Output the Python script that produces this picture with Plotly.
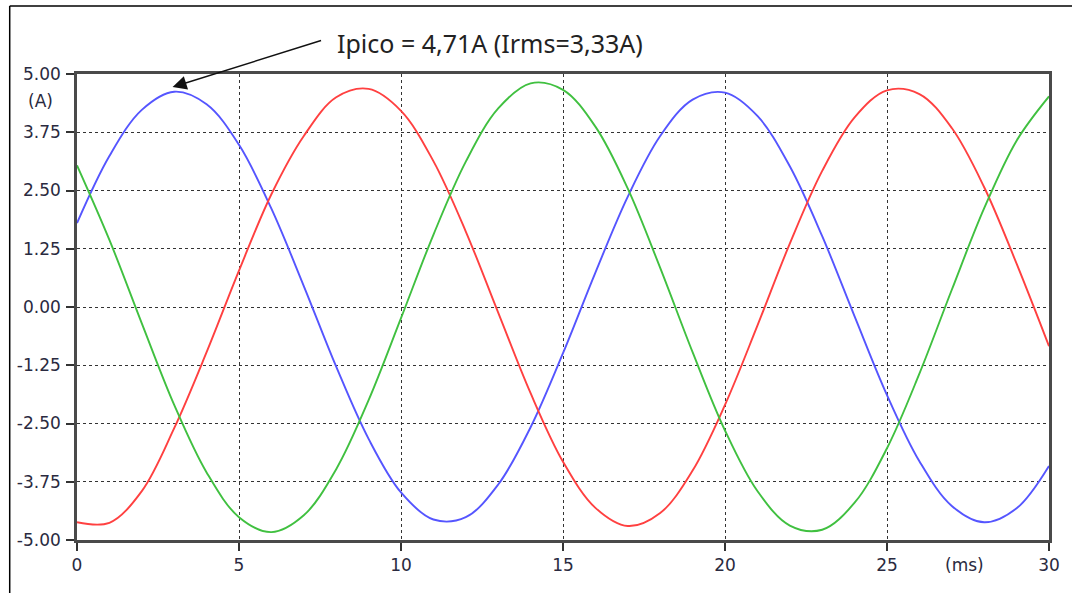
import plotly.graph_objects as go

# ---- data (time in ms, current in A) ----
t_ms = [0, 1, 2, 3, 4, 5, 6, 7, 8, 9, 10, 11, 12, 13, 14, 15,
        16, 17, 18, 19, 20, 21, 22, 23, 24, 25, 26, 27, 28, 29, 30]

blue_a = [1.80, 3.24, 4.23, 4.62, 4.35, 3.48, 2.11, 0.45, -1.28, -2.83, -3.98, -4.56, -4.51, -3.81, -2.58, -0.99,
          0.74, 2.37, 3.67, 4.45, 4.60, 4.10, 3.02, 1.52, -0.20, -1.89, -3.31, -4.27, -4.62, -4.32, -3.41]

red_a = [-4.62, -4.63, -3.95, -2.60, -0.97, 0.78, 2.42, 3.67, 4.50, 4.68, 4.21, 3.13, 1.62, -0.12, -1.85, -3.32,
         -4.31, -4.70, -4.42, -3.51, -2.10, -0.40, 1.36, 2.92, 4.07, 4.65, 4.57, 3.84, 2.57, 0.93, -0.84]

green_a = [3.04, 1.44, -0.35, -2.10, -3.55, -4.51, -4.83, -4.47, -3.48, -2.00, -0.24, 1.55, 3.12, 4.26, 4.80, 4.66,
           3.87, 2.54, 0.84, -0.97, -2.65, -3.95, -4.69, -4.78, -4.20, -3.03, -1.43, 0.37, 2.12, 3.57, 4.52]

x_ticks = [0, 5, 10, 15, 20, 25, 30]
x_tick_labels = ["0", "5", "10", "15", "20", "25", "30"]
y_ticks = [5.0, 3.75, 2.5, 1.25, 0.0, -1.25, -2.5, -3.75, -5.0]
y_tick_labels = ["5.00", "3.75", "2.50", "1.25", "0.00", "-1.25", "-2.50", "-3.75", "-5.00"]

peak_label = "Ipico = 4,71A (Irms=3,33A)"
peak_t, peak_v = 2.95, 4.72

# ---- figure ----
W, H = 1072, 593
L, R, T, B = 77, 20, 74, 53
PW, PH = W - L - R, H - T - B


def px(x):
    return (x - L) / PW


def py(y):
    return (H - B - y) / PH


fig = go.Figure()
for v, c in [(blue_a, "rgb(85,85,255)"),
             (red_a, "rgb(255,64,64)"),
             (green_a, "rgb(64,192,64)")]:
    fig.add_trace(go.Scatter(x=t_ms, y=v, mode="lines",
                             line=dict(color=c, width=1.9, shape="spline", smoothing=1.0),
                             showlegend=False, hoverinfo="skip"))

tick_font = dict(family="DejaVu Sans", size=17, color="#2a2a40")
axis_style = dict(showgrid=True, gridcolor="#333333", gridwidth=1, griddash="dot",
                  zeroline=False, showline=True, linecolor="#4a4a4a", linewidth=2.5,
                  mirror=True, ticks="outside", ticklen=8, tickcolor="#333333",
                  tickwidth=1.5, tickfont=tick_font)

fig.update_xaxes(range=[0, 30], tickvals=x_ticks, ticktext=x_tick_labels,
                 ticklabelstandoff=0, **axis_style)
fig.update_yaxes(range=[-5, 5], tickvals=y_ticks, ticktext=y_tick_labels,
                 ticklabelstandoff=2, **axis_style)

fig.update_layout(
    width=W, height=H,
    margin=dict(l=L, r=R, t=T, b=B),
    paper_bgcolor="white", plot_bgcolor="white",
    annotations=[
        dict(x=peak_t, y=peak_v, xref="x", yref="y", text="", showarrow=True,
             ax=150, ay=-47, arrowhead=2, arrowsize=2.0, arrowwidth=1.4,
             arrowcolor="#111111"),
        dict(x=px(336), y=py(43), xref="paper", yref="paper",
             xanchor="left", yanchor="middle", text=peak_label, showarrow=False,
             font=dict(family="Noto Sans", size=25, color="#222222")),
        dict(x=px(40), y=py(101), xref="paper", yref="paper",
             xanchor="center", yanchor="middle", text="(A)", showarrow=False,
             font=tick_font),
        dict(x=px(967), y=py(565), xref="paper", yref="paper",
             xanchor="center", yanchor="middle", text="(ms)", showarrow=False,
             font=tick_font),
    ],
    shapes=[
        dict(type="line", xref="paper", yref="paper",
             x0=px(9.5), x1=px(9.5), y0=py(6), y1=py(600),
             line=dict(color="#000000", width=1.5)),
        dict(type="line", xref="paper", yref="paper",
             x0=px(9.5), x1=px(1080), y0=py(6), y1=py(6),
             line=dict(color="#000000", width=1.5)),
    ],
)

fig.write_html("out.html", config={"displayModeBar": False},
               post_script="document.body.style.margin='0px';")
